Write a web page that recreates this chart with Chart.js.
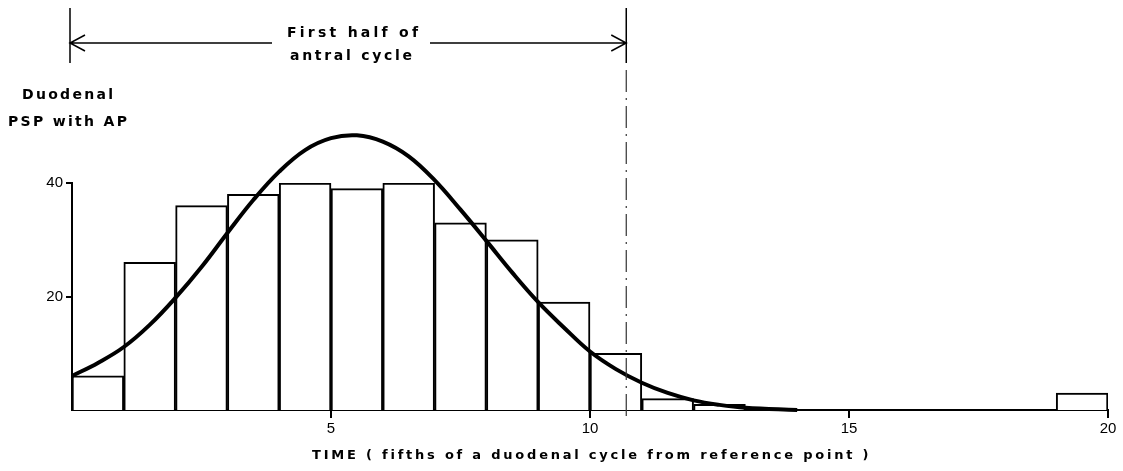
<!DOCTYPE html>
<html>
<head>
<meta charset="utf-8">
<script src="https://cdn.jsdelivr.net/npm/chart.js@4/dist/chart.umd.min.js"></script>
<style>
  html, body { margin: 0; padding: 0; background: #fff; }
  #wrap { width: 1123px; height: 471px; }
</style>
</head>
<body>
<div id="wrap"><canvas id="myChart"></canvas></div>
<script>
// histogram bins (width 1, fifths of a duodenal cycle)
const binCenters = [0.5, 1.5, 2.5, 3.5, 4.5, 5.5, 6.5, 7.5, 8.5, 9.5,
                    10.5, 11.5, 12.5, 13.5, 14.5, 15.5, 16.5, 17.5, 18.5, 19.5];
const binCounts = [6, 26, 36, 38, 40, 39, 40, 33, 30, 19,
                   10, 2, 1, 0, 0, 0, 0, 0, 0, 3];

// fitted curve
const curveX = [0, 0.5, 1, 1.5, 2, 2.5, 3, 3.5, 4, 4.5, 5, 5.5, 6, 6.5, 7,
                7.5, 8, 8.5, 9, 9.5, 10, 10.5, 11, 11.5, 12, 12.5, 13, 14];
const curveY = [6, 8.3, 11.1, 15, 19.8, 25.2, 31.2, 37, 42, 45.8, 47.9, 48.4, 47.3, 44.7, 40.5,
                35.3, 29.8, 24.2, 19, 14.5, 10.3, 7.2, 4.8, 3, 1.7, 0.9, 0.4, 0];

const xTicks = [5, 10, 15, 20];
const yTicks = [20, 40];
const halfCycleMark = 10.7;

const xLabel = 'TIME ( fifths of a duodenal cycle from reference point )';
const yLabel = ['Duodenal', 'PSP with AP'];
const spanLabel = ['First half of', 'antral cycle'];

function spaced(ctx, text, x0, x1, y, font) {
  ctx.save();
  ctx.font = font;
  ctx.letterSpacing = '0px';
  const w = ctx.measureText(text).width;
  const sp = Math.max(0, (x1 - x0 - w) / (text.length - 1));
  ctx.letterSpacing = sp + 'px';
  ctx.textAlign = 'left';
  ctx.textBaseline = 'middle';
  ctx.fillStyle = '#000';
  ctx.fillText(text, x0, y);
  ctx.restore();
}

const annotations = {
  id: 'annotations',
  afterDraw(chart) {
    const ctx = chart.ctx;
    const xs = chart.scales.x;
    const x0 = xs.getPixelForValue(0) - 2;
    const xm = xs.getPixelForValue(halfCycleMark);
    const yArrow = 43;
    ctx.save();
    ctx.strokeStyle = '#000';
    ctx.lineWidth = 1.5;
    // end bars
    ctx.beginPath();
    ctx.moveTo(x0, 8); ctx.lineTo(x0, 63);
    ctx.moveTo(xm, 8); ctx.lineTo(xm, 63);
    ctx.stroke();
    // arrows
    ctx.beginPath();
    ctx.moveTo(x0, yArrow); ctx.lineTo(272, yArrow);
    ctx.moveTo(x0 + 15, yArrow - 8); ctx.lineTo(x0, yArrow); ctx.lineTo(x0 + 15, yArrow + 8);
    ctx.moveTo(430, yArrow); ctx.lineTo(xm, yArrow);
    ctx.moveTo(xm - 15, yArrow - 8); ctx.lineTo(xm, yArrow); ctx.lineTo(xm - 15, yArrow + 8);
    ctx.stroke();
    // dash-dot line
    ctx.lineWidth = 1.2;
    ctx.strokeStyle = '#333';
    ctx.setLineDash([22, 6, 2, 6]);
    ctx.beginPath();
    ctx.moveTo(xm, 70); ctx.lineTo(xm, chart.chartArea.bottom + 12);
    ctx.stroke();
    ctx.restore();

    const f = 'bold 14px "DejaVu Sans", sans-serif';
    spaced(ctx, spanLabel[0], 287, 418, 33, f);
    spaced(ctx, spanLabel[1], 290, 412, 56, f);
    spaced(ctx, yLabel[0], 22, 113, 95, f);
    spaced(ctx, yLabel[1], 8, 127, 122, f);
    spaced(ctx, xLabel, 312, 868, 456, 'bold 13px "DejaVu Sans", sans-serif');
  }
};

const data = {
  datasets: [
    {
      type: 'line',
      data: curveX.map((x, i) => ({ x: x, y: curveY[i] })),
      borderColor: '#000',
      borderWidth: 4,
      pointRadius: 0,
      tension: 0.4,
      clip: false,
      order: 0
    },
    {
      type: 'bar',
      data: binCenters.map((x, i) => ({ x: x, y: binCounts[i] })),
      backgroundColor: '#fff',
      borderColor: '#000',
      borderWidth: 2,
      barPercentage: 1,
      categoryPercentage: 1,
      order: 1
    }
  ]
};

const tickFont = { family: '"Liberation Sans", Arial, sans-serif', size: 15 };

const config = {
  type: 'bar',
  data: data,
  options: {
    responsive: true,
    maintainAspectRatio: false,
    animation: false,
    layout: { padding: { top: 183, right: 15, left: 0, bottom: 0 } },
    plugins: { legend: { display: false }, tooltip: { enabled: false } },
    scales: {
      x: {
        type: 'linear',
        min: 0,
        max: 20,
        offset: false,
        afterFit: s => { s.height = 61; },
        afterBuildTicks: s => { s.ticks = xTicks.map(v => ({ value: v })); },
        ticks: { color: '#000', font: tickFont, padding: 2, maxRotation: 0 },
        grid: { drawOnChartArea: false, offset: false, tickLength: 8, color: '#000', lineWidth: 2 },
        border: { color: '#000', width: 2 }
      },
      y: {
        min: 0,
        max: 40,
        afterFit: s => { s.width = 72; },
        afterBuildTicks: s => { s.ticks = yTicks.map(v => ({ value: v })); },
        ticks: { color: '#000', font: tickFont, padding: 3 },
        grid: { drawOnChartArea: false, tickLength: 6, color: '#000', lineWidth: 2 },
        border: { color: '#000', width: 2 }
      }
    }
  },
  plugins: [annotations]
};

const myChart = new Chart(document.getElementById('myChart'), config);
</script>
</body>
</html>
